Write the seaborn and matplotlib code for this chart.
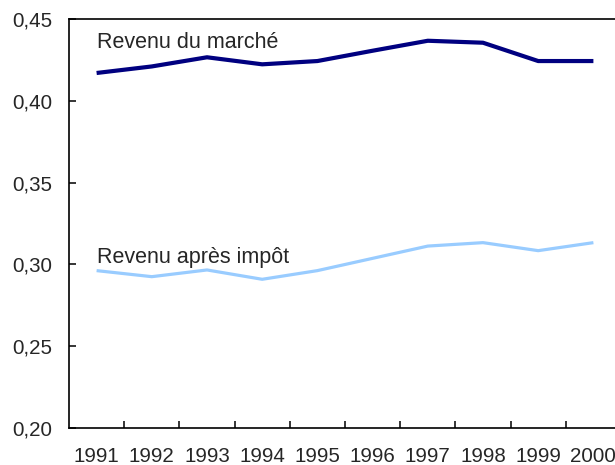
import matplotlib
matplotlib.use("Agg")
import matplotlib.pyplot as plt
import seaborn as sns
import pandas as pd
import numpy as np

# Data
years = ["1991", "1992", "1993", "1994", "1995", "1996", "1997", "1998", "1999", "2000"]
marche = [0.417, 0.421, 0.4266, 0.4223, 0.4243, 0.4306, 0.4367, 0.4355, 0.4243, 0.4243]
apres_impot = [0.2962, 0.2925, 0.2966, 0.2909, 0.2962, 0.3037, 0.3112, 0.3133, 0.3084, 0.3133]
y_ticks = [0.20, 0.25, 0.30, 0.35, 0.40, 0.45]

sns.set_style("white")
plt.rcParams['font.family'] = ['Liberation Sans', 'DejaVu Sans']

df = pd.DataFrame({
    "pos": list(range(len(years))) * 2,
    "valeur": marche + apres_impot,
    "serie": ["Revenu du marché"] * len(years) + ["Revenu après impôt"] * len(years),
})

fig = plt.figure(figsize=(6.15, 4.65), dpi=100)
ax = fig.add_axes([69 / 615, 37 / 465, 552 / 615, 409 / 465])

sns.lineplot(data=df, x="pos", y="valeur", hue="serie",
             palette={"Revenu du marché": "#000080", "Revenu après impôt": "#99CCFF"},
             legend=False, ax=ax)
for line, lw in zip(ax.get_lines(), [3.0, 2.3]):
    line.set_linewidth(lw)
    line.set_solid_capstyle("butt")

# Direct labels
ax.text(0, 0.4323, "Revenu du marché", fontsize=15.5, va="baseline", ha="left")
ax.text(0, 0.3009, "Revenu après impôt", fontsize=15.5, va="baseline", ha="left")

ax.set_xlim(-0.5, len(years) - 0.5)
ax.set_ylim(0.20, 0.45)

ax.set_xticks(range(len(years)))
ax.set_xticklabels(years)
ax.set_xticks(np.arange(0.5, len(years) - 0.5, 1), minor=True)
ax.tick_params(axis="x", which="both", bottom=True)
ax.tick_params(axis="x", which="major", length=0, pad=14, labelsize=14.8)
ax.tick_params(axis="x", which="minor", direction="in", length=5, width=1.1, color="black")

ax.set_yticks(y_ticks)
ax.set_yticklabels([f"{v:.2f}".replace(".", ",") for v in y_ticks])
ax.tick_params(axis="y", left=True, direction="in", length=5, width=1.1, color="black",
               pad=12, labelsize=14.8)

ax.set_xlabel("")
ax.set_ylabel("")
for side in ["top", "left", "bottom", "right"]:
    ax.spines[side].set_color("black")
    ax.spines[side].set_linewidth(1.2)

fig.savefig("out.png", dpi=100)
